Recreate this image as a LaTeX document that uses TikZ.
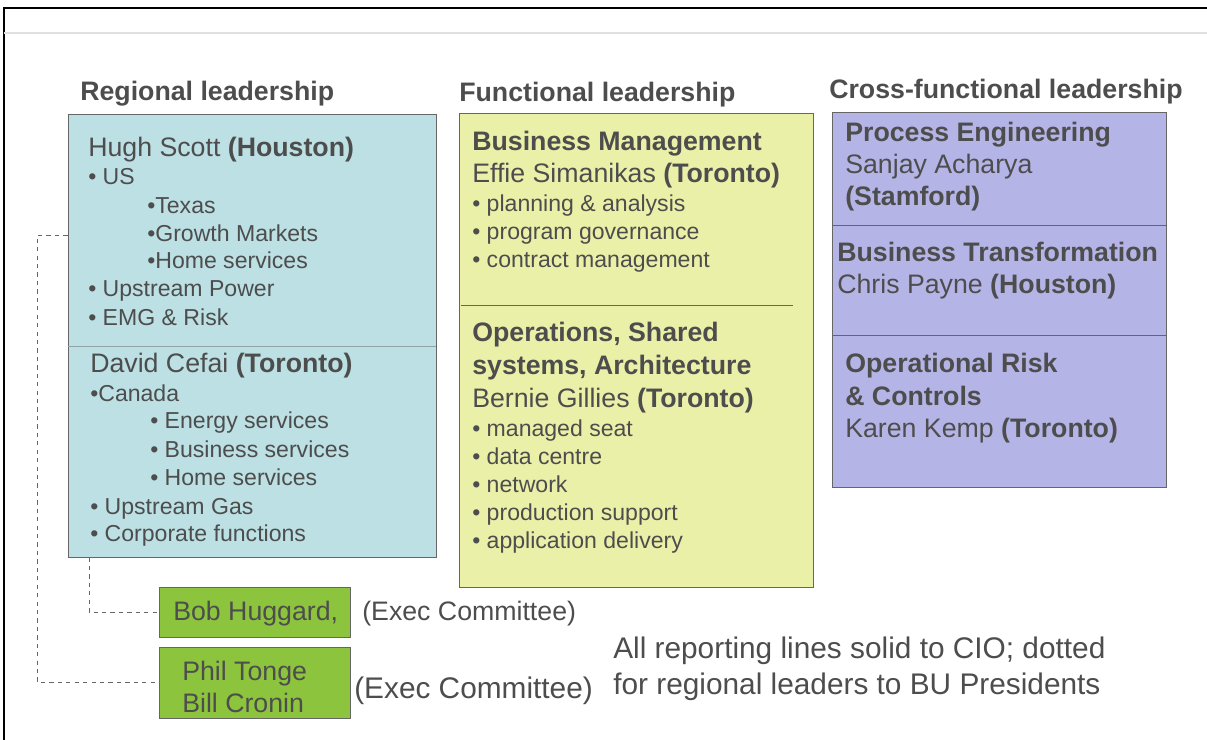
\documentclass[tikz,border=0pt]{standalone}
\usepackage{fontspec}
\setmainfont{Liberation Sans}
\usepackage{xcolor}
\usetikzlibrary{calc}

\definecolor{inkgrey}{HTML}{4D4D4D}
\definecolor{regfill}{HTML}{BCE0E3}
\definecolor{funcfill}{HTML}{EBF0A8}
\definecolor{crossfill}{HTML}{B4B4E6}
\definecolor{execfill}{HTML}{8CC43D}
\definecolor{edgegrey}{HTML}{666666}

\tikzset{
  box/.style={draw=edgegrey, line width=0.6pt, rectangle, inner sep=0pt},
  txt/.style={anchor=base west, inner sep=0pt, text=inkgrey, font=\fontsize{19}{23}\selectfont},
  itm/.style={txt, font=\fontsize{16.4}{20}\selectfont},
  head/.style={txt, font=\fontsize{19}{23}\selectfont\bfseries},
  note/.style={txt, font=\fontsize{21.2}{25}\selectfont},
  dotline/.style={draw=edgegrey, dashed, line width=0.6pt},
  sepline/.style={draw=edgegrey, line width=0.6pt}
}

\begin{document}
\begin{tikzpicture}[x=0.025cm,y=-0.025cm]
  \useasboundingbox (0,0) rectangle (1207,740);

  % frame of the slide
  \draw [line width=1.4pt] (4,740) -- (4,8) -- (1207,8);
  \draw [line width=1pt, black!12] (4,33) -- (1207,33);

  % column headings
  \node (reghead) [head] at (80,101) {Regional leadership};
  \node (funchead) [head] at (459,102) {Functional leadership};
  \node (crosshead) [head] at (829,99) {Cross-functional leadership};

  % the boxes
  \node (regbox) [box, fill=regfill, minimum width=9.2cm, minimum height=11.075cm] at (252,335.5) {};
  \node (funcbox) [box, fill=funcfill, minimum width=8.85cm, minimum height=11.85cm] at (636,350) {};
  \node (crossbox) [box, fill=crossfill, minimum width=8.35cm, minimum height=9.375cm] at (999,299.5) {};
  \node (bob) [box, fill=execfill, minimum width=4.775cm, minimum height=1.25cm] at (254.5,612) {};
  \node (phil) [box, fill=execfill, minimum width=4.775cm, minimum height=1.775cm] at (254.5,682.5) {};

  % dividers
  \draw [sepline, draw=regfill!50!edgegrey] (regbox.west |- 0,346) -- (regbox.east |- 0,346);
  \draw [sepline] (461,305) -- (793,305);
  \draw [sepline] (crossbox.west |- 0,225) -- (crossbox.east |- 0,225);
  \draw [sepline] (crossbox.west |- 0,335) -- (crossbox.east |- 0,335);

  % dotted lines to BU presidents
  \draw [dotline] (regbox.west |- 0,235) -- ++(-30,0) |- (phil.west);
  \draw [dotline] (regbox.south -| 89,0) |- (bob.west);

  % regional: Houston
  \node (hugh) [txt] at (88,157) {Hugh Scott \textbf{(Houston)}};
  \node (us) [itm] at (88,185) {• US};
  \node (texas) [itm] at (147,214) {•Texas};
  \node (growth) [itm] at (147,242) {•Growth Markets};
  \node (homeus) [itm] at (147,269) {•Home services};
  \node (power) [itm] at (88,297) {• Upstream Power};
  \node (emg) [itm] at (88,326) {• EMG \& Risk};

  % regional: Toronto
  \node (david) [txt] at (90,372) {David Cefai \textbf{(Toronto)}};
  \node (canada) [itm] at (90,401) {•Canada};
  \node (energy) [itm] at (150,429) {• Energy services};
  \node (business) [itm] at (150,457) {• Business services};
  \node (homeca) [itm] at (150,485) {• Home services};
  \node (gas) [itm] at (90,514) {• Upstream Gas};
  \node (corp) [itm] at (90,541) {• Corporate functions};

  % functional
  \node (bm) [head] at (472,151) {Business Management};
  \node (effie) [txt] at (472,183) {Effie Simanikas \textbf{(Toronto)}};
  \node (plan) [itm] at (472,212) {• planning \& analysis};
  \node (prog) [itm] at (472,240) {• program governance};
  \node (contract) [itm] at (472,268) {• contract management};
  \node (ops) [head] at (472,342) {Operations, Shared};
  \node (arch) [head] at (472,374) {systems, Architecture};
  \node (bernie) [txt] at (472,407) {Bernie Gillies \textbf{(Toronto)}};
  \node (seat) [itm] at (472,436) {• managed seat};
  \node (data) [itm] at (472,464) {• data centre};
  \node (net) [itm] at (472,492) {• network};
  \node (prod) [itm] at (472,520) {• production support};
  \node (appl) [itm] at (472,548) {• application delivery};

  % cross-functional
  \node (pe) [head] at (845,142) {Process Engineering};
  \node (sanjay) [txt] at (845,174) {Sanjay Acharya};
  \node (stamford) [head] at (845,206) {(Stamford)};
  \node (bt) [head] at (837,262) {Business Transformation};
  \node (chris) [txt] at (837,294) {Chris Payne \textbf{(Houston)}};
  \node (risk) [head] at (845,372) {Operational Risk};
  \node (controls) [head] at (845,405) {\& Controls};
  \node (karen) [txt] at (845,437) {Karen Kemp \textbf{(Toronto)}};

  % exec committee
  \node (bobname) [txt] at (173,620) {Bob Huggard,};
  \node (bobexec) [txt] at (362,620) {(Exec Committee)};
  \node (philname) [txt] at (182,680) {Phil Tonge};
  \node (billname) [txt] at (182,712) {Bill Cronin};
  \node (philexec) [note] at (354,698) {(Exec Committee)};

  % note
  \node (noteone) [note] at (613,658) {All reporting lines solid to CIO; dotted};
  \node (notetwo) [note] at (613,694) {for regional leaders to BU Presidents};
\end{tikzpicture}
\end{document}
